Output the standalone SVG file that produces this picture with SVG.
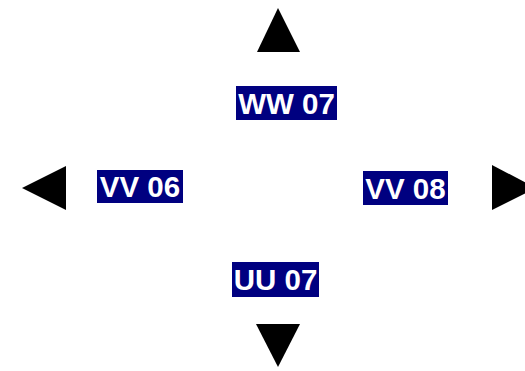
<svg xmlns="http://www.w3.org/2000/svg" width="525" height="371" viewBox="0 0 525 371">
<style>
.box{fill:#000080;}
.lbl{font-family:"Liberation Sans",Arial,sans-serif;font-weight:bold;font-size:29.5px;fill:#ffffff;text-anchor:middle;}
.arr{fill:#000000;}
</style>
<rect width="525" height="371" fill="#ffffff"/>
<g id="connectors">
<polygon class="arr" points="278,8 257,52 300,52"/>
<polygon class="arr" points="22,188 66,166 66,210"/>
<polygon class="arr" points="536,188 492,165 492,210"/>
<polygon class="arr" points="278,367 256,324 300,324"/>
</g>
<g id="ww07"><rect class="box" x="236" y="86" width="101" height="34"/><text class="lbl" x="286.5" y="113.5">WW 07</text></g>
<g id="vv06"><rect class="box" x="97" y="170" width="86" height="33"/><text class="lbl" x="140" y="197">VV 06</text></g>
<g id="vv08"><rect class="box" x="363" y="171" width="85" height="34"/><text class="lbl" x="405.5" y="198.5">VV 08</text></g>
<g id="uu07"><rect class="box" x="232" y="262" width="87" height="35"/><text class="lbl" x="275.5" y="290">UU 07</text></g>
</svg>
